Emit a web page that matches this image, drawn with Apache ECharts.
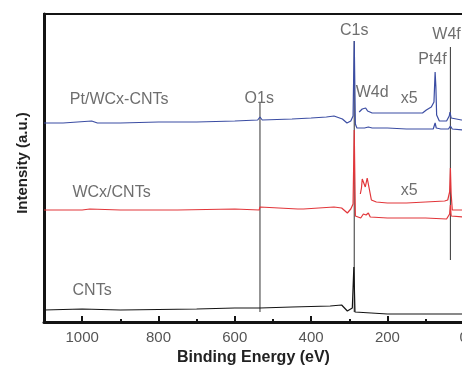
<!DOCTYPE html>
<html>
<head>
<meta charset="utf-8">
<script src="https://cdn.jsdelivr.net/npm/echarts@6/dist/echarts.min.js"></script>
<style>
  html, body { margin: 0; padding: 0; background: #fff; }
  #chart { width: 462px; height: 369px; }
</style>
</head>
<body>
<div id="chart"></div>
<script>
// binding energy (eV), intensity (a.u.)
const ptWcCnt = [
  [1100, 199], [1050, 199], [975, 201], [960, 199], [900, 199], [800, 200],
  [700, 200], [600, 201], [540, 202], [534, 205], [528, 202], [450, 203],
  [400, 204], [360, 205], [340, 206], [318, 203], [306, 199], [296, 201],
  [290, 206], [287, 281], [284, 198], [280, 194], [260, 194], [250, 195],
  [240, 194], [200, 194], [150, 193], [100, 193], [80, 193], [75, 199],
  [72, 194], [60, 193], [40, 193], [35, 196], [30, 193], [0, 192], [-40, 192]
];
const ptWcCntX5 = [
  [274, 210], [266, 213], [262, 211], [257, 214], [252, 211], [247, 212],
  [240, 209], [220, 209], [161, 209], [108, 209], [98, 212], [85, 215],
  [78, 220], [75, 250], [73, 235], [71, 207], [64, 201], [45, 201],
  [38, 206], [36, 210], [33, 204], [29, 202], [6, 202], [-40, 202]
];
const wcCnt = [
  [1100, 112], [1000, 112], [980, 113], [900, 112], [750, 112], [600, 113],
  [536, 112], [534, 115], [530, 113], [435, 113], [430, 115], [420, 113],
  [340, 115], [320, 114], [305, 109], [296, 113], [290, 118], [287, 192],
  [284, 106], [280, 105], [270, 104], [263, 108], [256, 107], [250, 109],
  [245, 105], [200, 104], [100, 104], [45, 103], [37, 108], [35, 117],
  [33, 106], [28, 104], [-40, 104]
];
const wcCntX5 = [
  [271, 128], [268, 134], [266, 143], [258, 135], [253, 144], [242, 122],
  [229, 120], [200, 119], [150, 119], [100, 120], [50, 121], [42, 122],
  [37, 130], [35, 154], [33, 128], [30, 112], [0, 112], [-40, 112]
];
const cnt = [
  [1100, 12], [1000, 13], [900, 12], [700, 13], [600, 14], [534, 14],
  [450, 15], [350, 16], [320, 17], [305, 11], [292, 14], [288, 55],
  [285, 10], [280, 8], [200, 8], [100, 8], [0, 8], [-40, 8]
];

// peak marker lines: [energy, top, bottom]
const peakLines = [[534, 219, 10], [287, 281, 10], [35, 275, 62]];

// text: [label, energy, intensity]
const peakLabels = [
  ["C1s", 287, 291], ["W4f", 45, 287], ["Pt4f", 82, 262], ["W4d", 240, 229],
  ["x5", 143, 223], ["O1s", 536, 223], ["x5", 143, 131]
];
const sampleLabels = [["Pt/WCx-CNTs", 903, 222], ["WCx/CNTs", 923, 129], ["CNTs", 974, 31]];

const majorTicks = [1000, 800, 600, 400, 200, 0];
const minorTicks = [900, 700, 500, 300, 100];

const font = "'Liberation Sans', Arial, sans-serif";
const blue = "#3b4da3";
const red = "#e2363a";
const black = "#141414";

const lineSeries = (data, color, width) => ({
  type: "line",
  data: data,
  symbol: "none",
  silent: true,
  animation: false,
  lineStyle: { color: color, width: width },
});

const series = [];
peakLines.forEach((p) => {
  series.push(lineSeries([[p[0], p[1]], [p[0], p[2]]], "#333", 1));
});
series.push(lineSeries(cnt, black, 1.2));
series.push(lineSeries(wcCnt, red, 1.2));
series.push(lineSeries(wcCntX5, red, 1.2));
series.push(lineSeries(ptWcCnt, blue, 1.2));
series.push(lineSeries(ptWcCntX5, blue, 1.2));
series.push({
  type: "scatter",
  symbolSize: 0,
  silent: true,
  animation: false,
  data: peakLabels.concat(sampleLabels).map((d) => ({ name: d[0], value: [d[1], d[2]] })),
  label: {
    show: true,
    position: "inside",
    formatter: (p) => p.name,
    color: "#4a4a4a",
    fontSize: 16,
    fontFamily: font,
  },
});

const option = {
  backgroundColor: "#fff",
  animation: false,
  grid: {
    left: 44,
    top: 14,
    width: 435,
    height: 308,
    outerBoundsMode: "none",
    containLabel: false,
    show: true,
    borderColor: black,
    borderWidth: 2,
  },
  xAxis: [
    {
      type: "value",
      min: -40,
      max: 1100,
      inverse: true,
      position: "bottom",
      name: "Binding Energy (eV)",
      nameLocation: "middle",
      nameGap: 28,
      nameTextStyle: {
        fontSize: 16,
        fontWeight: "bold",
        color: "#222",
        fontFamily: font,
        padding: [0, 16, 0, 0],
      },
      splitLine: { show: false },
      axisLine: { onZero: false, lineStyle: { color: black, width: 3 } },
      axisTick: { inside: true, length: 6, customValues: majorTicks, lineStyle: { color: black, width: 2 } },
      axisLabel: {
        customValues: majorTicks,
        formatter: (v) => String(v),
        margin: 8,
        fontSize: 15,
        color: "#555",
        fontFamily: font,
      },
    },
    {
      type: "value",
      min: -40,
      max: 1100,
      inverse: true,
      position: "bottom",
      splitLine: { show: false },
      axisLine: { show: false, onZero: false },
      axisTick: { inside: true, length: 3, customValues: minorTicks, lineStyle: { color: black, width: 2 } },
      axisLabel: { show: false },
    },
  ],
  yAxis: {
    type: "value",
    min: 0,
    max: 308,
    name: "Intensity (a.u.)",
    nameLocation: "middle",
    nameGap: 14,
    nameTextStyle: {
      fontSize: 15,
      fontWeight: "bold",
      color: "#222",
      fontFamily: font,
      padding: [0, 0, 0, 10],
    },
    splitLine: { show: false },
    axisLine: { show: true, onZero: false, lineStyle: { color: black, width: 3 } },
    axisTick: { show: false },
    axisLabel: { show: false },
  },
  series: series,
};

const chart = echarts.init(document.getElementById("chart"), null, { renderer: "canvas" });
chart.setOption(option);
</script>
</body>
</html>
